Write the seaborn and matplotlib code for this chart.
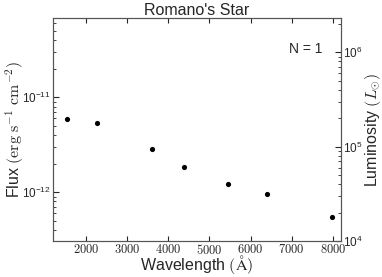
import numpy as np
import pandas as pd
import matplotlib
matplotlib.use("Agg")
import matplotlib.pyplot as plt
import seaborn as sns

# Datos
wavelength = [1528, 2271, 3600, 4380, 5450, 6410, 7980]
flux = [5.95e-12, 5.32e-12, 2.86e-12, 1.86e-12, 1.21e-12, 9.6e-13, 5.53e-13]
x_ticks = [2000, 3000, 4000, 5000, 6000, 7000, 8000]

df = pd.DataFrame({'wavelength': wavelength, 'flux': flux})

sns.set_style("ticks")
plt.rcParams['font.family'] = ['Liberation Sans', 'DejaVu Sans']
plt.rcParams['mathtext.fontset'] = 'cm'

fig = plt.figure(figsize=(3.82, 2.77), dpi=100)
ax = fig.add_axes([0.139, 0.130, 0.754, 0.805])

sns.scatterplot(data=df, x='wavelength', y='flux', color='black', s=14,
                edgecolor='black', linewidth=0, ax=ax)
ax.set_yscale('log')
ax.set_xlim(1200, 8200)
ax.set_ylim(3.07e-13, 6.84e-11)
ax.set_xticks(x_ticks)
ax.set_xticklabels([f'${t}$' for t in x_ticks])
ax.tick_params(axis='both', which='both', direction='in', labelsize=9, top=True, pad=1.5)
ax.tick_params(axis='y', which='major', length=4, labelsize=8.5)
ax.tick_params(axis='y', which='minor', length=2)
ax.set_xlabel(r'Wavelength $(\mathrm{\AA})$', fontsize=11.5, labelpad=-3)
ax.set_ylabel(r'Flux $(\mathrm{erg\ s^{-1}\ cm^{-2}})$', fontsize=11.5, labelpad=-2.5)
ax.set_title("Romano's Star", fontsize=11.5, pad=2)
ax.text(0.935, 0.86, 'N = 1', transform=ax.transAxes, ha='right', va='center', fontsize=10)

ax2 = ax.twinx()
ax2.set_yscale('log')
ax2.set_ylim(1e4, 10**6.363)
ax2.tick_params(axis='y', which='both', direction='in', labelsize=8.5, pad=1.5)
ax2.tick_params(axis='y', which='major', length=4)
ax2.tick_params(axis='y', which='minor', length=2)
ax2.set_ylabel(r'Luminosity $(L_{\odot})$', fontsize=11.5, labelpad=0)

for a in (ax, ax2):
    for s in a.spines.values():
        s.set_color('#555555')
        s.set_linewidth(0.8)

plt.savefig('out.png', dpi=100)
